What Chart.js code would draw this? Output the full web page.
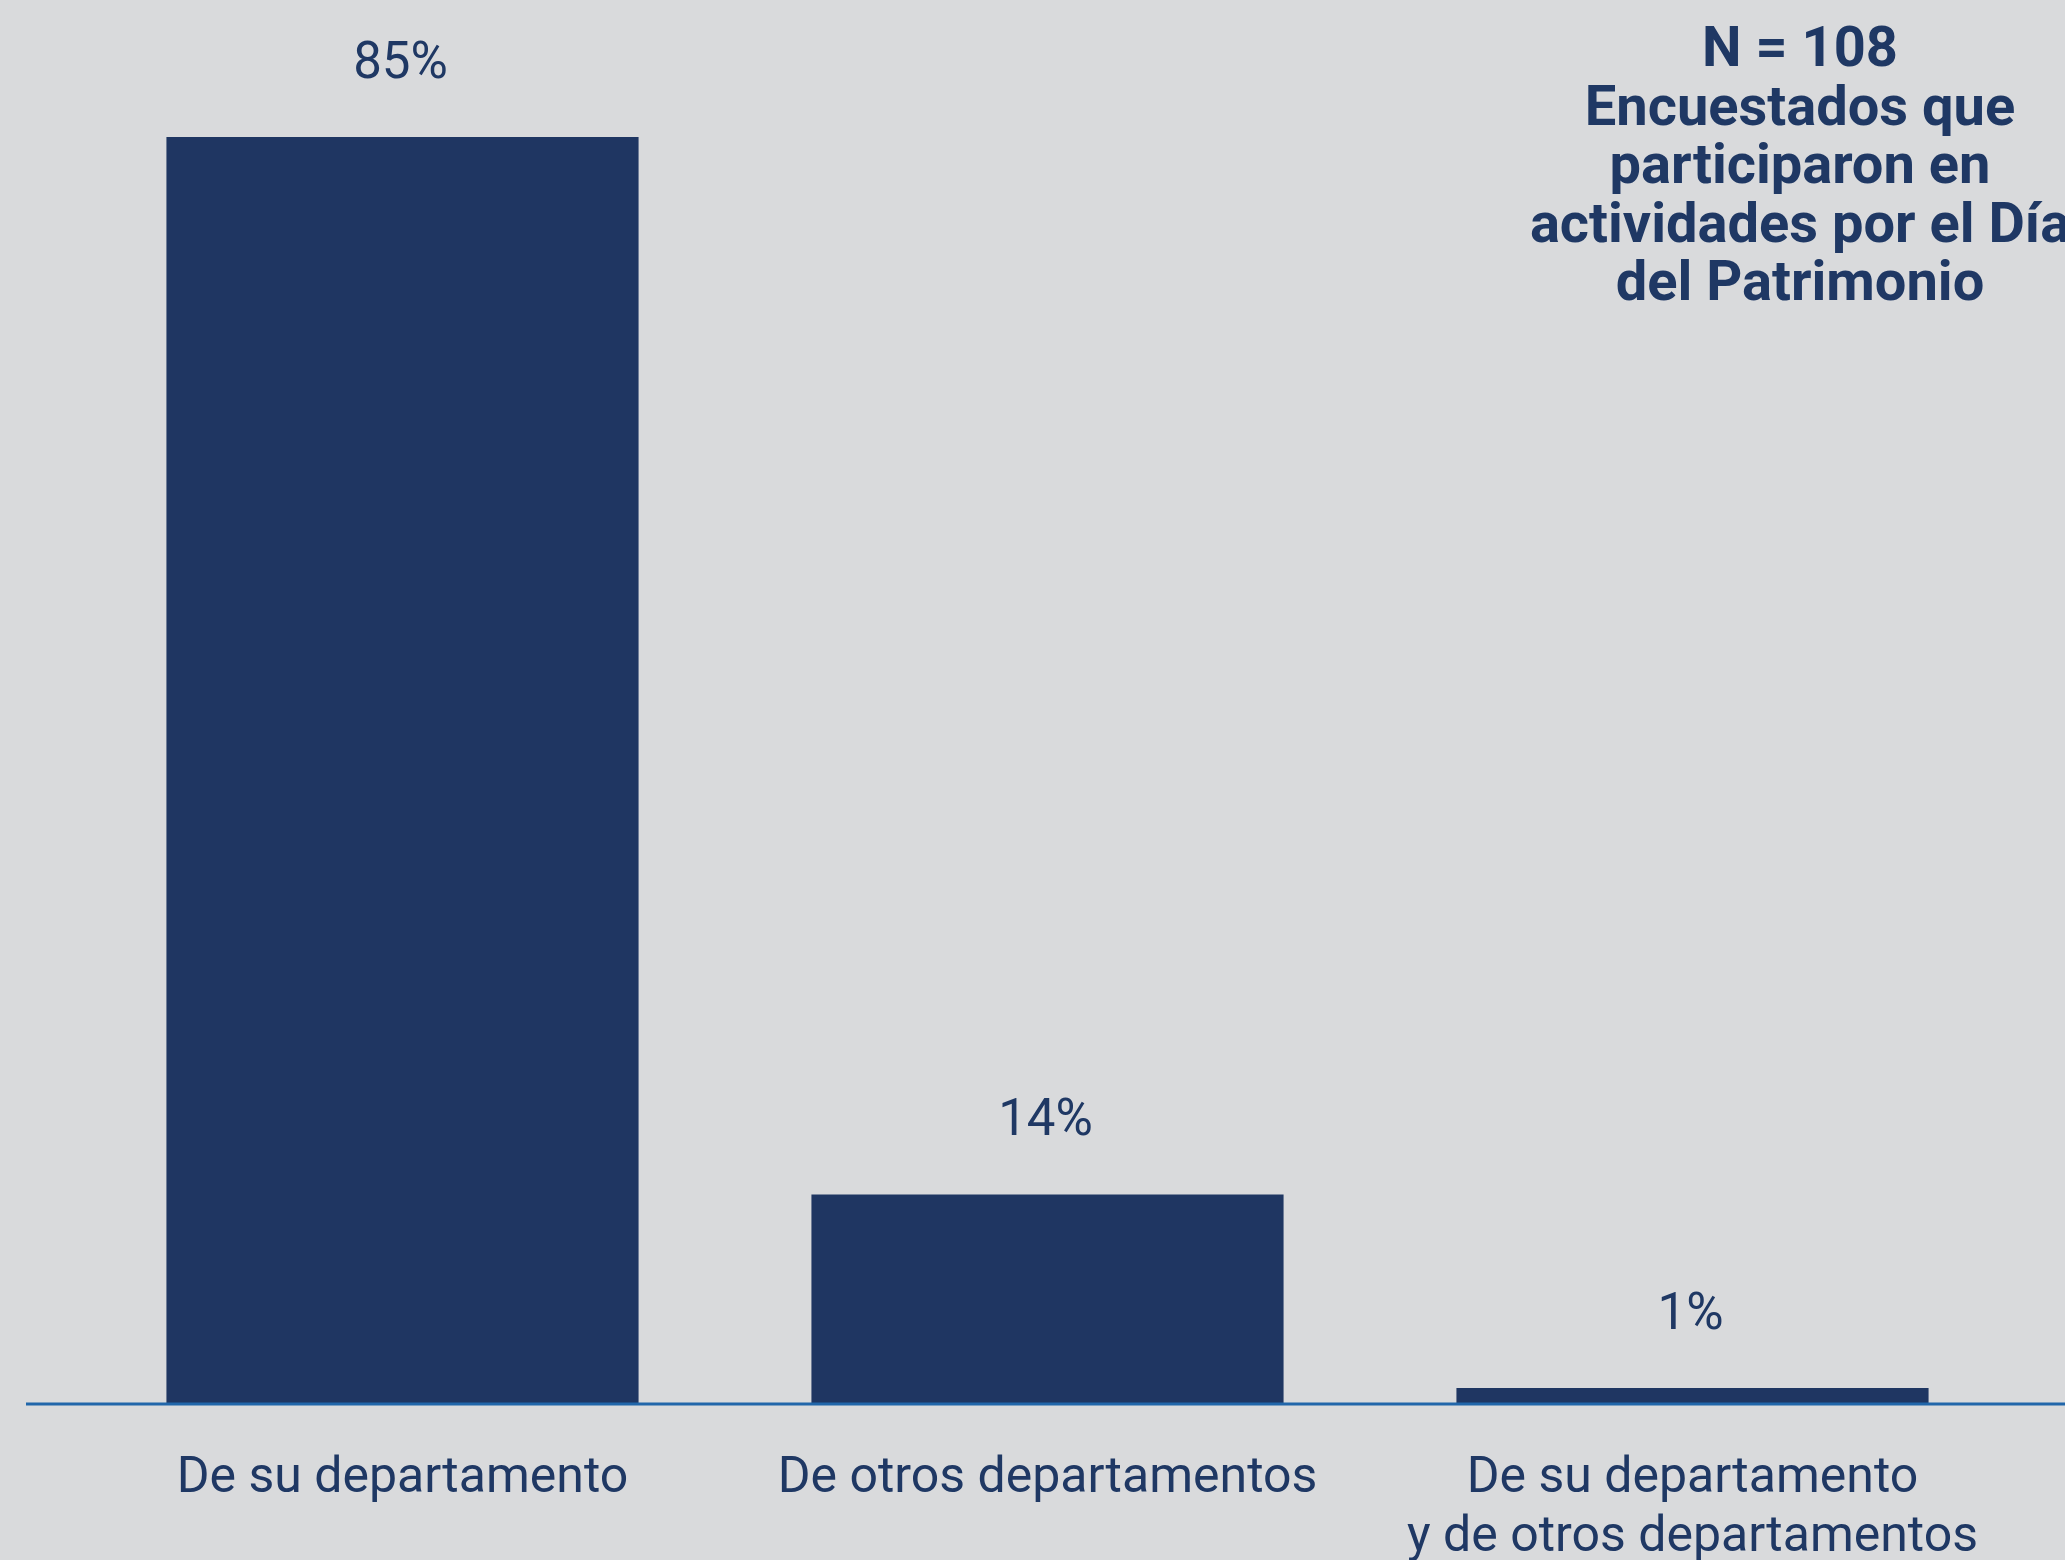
<!DOCTYPE html>
<html lang="es">

<head>
    <meta charset="UTF-8">
    <title>Procedencia de los encuestados</title>
    <style>
        html, body {
            margin: 0;
            padding: 0;
            background-color: #d9dadc;
            overflow: hidden;
        }

        .lienzo {
            position: relative;
            width: 2065px;
            height: 1560px;
            overflow: hidden;
        }

        .nota {
            position: absolute;
            left: 1500px;
            top: 18px;
            width: 600px;
            text-align: center;
            font-family: Roboto, "Noto Sans", sans-serif;
            font-weight: bold;
            font-size: 56px;
            line-height: 58.5px;
            color: #1f3864;
            white-space: nowrap;
        }
    </style>
</head>

<body>
    <div class="lienzo">
        <canvas id="graficoProcedencia" width="2065" height="1560"></canvas>
        <div class="nota">
            N = 108<br>
            Encuestados que<br>
            participaron en<br>
            actividades por el Día<br>
            del Patrimonio
        </div>
    </div>

    <script src="https://cdn.jsdelivr.net/npm/chart.js"></script>

    <script>
        // categorías (cada una puede tener varias líneas)
        var categorias = [
            ['De su departamento'],
            ['De otros departamentos'],
            ['De su departamento', 'y de otros departamentos']
        ];
        // porcentaje de encuestados
        var porcentajes = [85, 14, 1];

        var azul = '#1f3662';
        var azulTexto = '#1f3864';

        // etiqueta con el porcentaje sobre cada barra
        var etiquetasValor = {
            id: 'etiquetasValor',
            afterDatasetsDraw: function (chart) {
                var ctx = chart.ctx;
                var meta = chart.getDatasetMeta(0);
                ctx.save();
                ctx.fillStyle = azulTexto;
                ctx.font = '51px Roboto';
                ctx.textAlign = 'center';
                ctx.textBaseline = 'middle';
                meta.data.forEach(function (barra, i) {
                    ctx.fillText(porcentajes[i] + '%', barra.x - 2, barra.y - 72);
                });
                ctx.restore();
            }
        };

        // línea base azul a lo ancho del gráfico
        var lineaBase = {
            id: 'lineaBase',
            afterDatasetsDraw: function (chart) {
                var ctx = chart.ctx;
                var y = chart.scales.y.getPixelForValue(0);
                ctx.save();
                ctx.strokeStyle = '#2166aa';
                ctx.lineWidth = 3;
                ctx.beginPath();
                ctx.moveTo(26, y + 1);
                ctx.lineTo(chart.width, y + 1);
                ctx.stroke();
                ctx.restore();
            }
        };

        var ctx = document.getElementById('graficoProcedencia').getContext('2d');

        new Chart(ctx, {
            type: 'bar',
            data: {
                labels: categorias,
                datasets: [{
                    label: 'Encuestados',
                    data: porcentajes,
                    backgroundColor: azul,
                    borderWidth: 0,
                    barPercentage: 0.732,
                    categoryPercentage: 1
                }]
            },
            options: {
                responsive: false,
                animation: false,
                layout: {
                    padding: { left: 80, right: 50, top: 3, bottom: -55 }
                },
                plugins: {
                    legend: { display: false },
                    tooltip: { enabled: false }
                },
                scales: {
                    x: {
                        grid: { display: false, drawTicks: false },
                        border: { display: false },
                        ticks: {
                            color: azulTexto,
                            padding: 47,
                            font: { family: 'Roboto', size: 50, lineHeight: 1.18 }
                        }
                    },
                    y: {
                        display: false,
                        min: 0,
                        max: 94
                    }
                }
            },
            plugins: [etiquetasValor, lineaBase]
        });
    </script>
</body>

</html>
